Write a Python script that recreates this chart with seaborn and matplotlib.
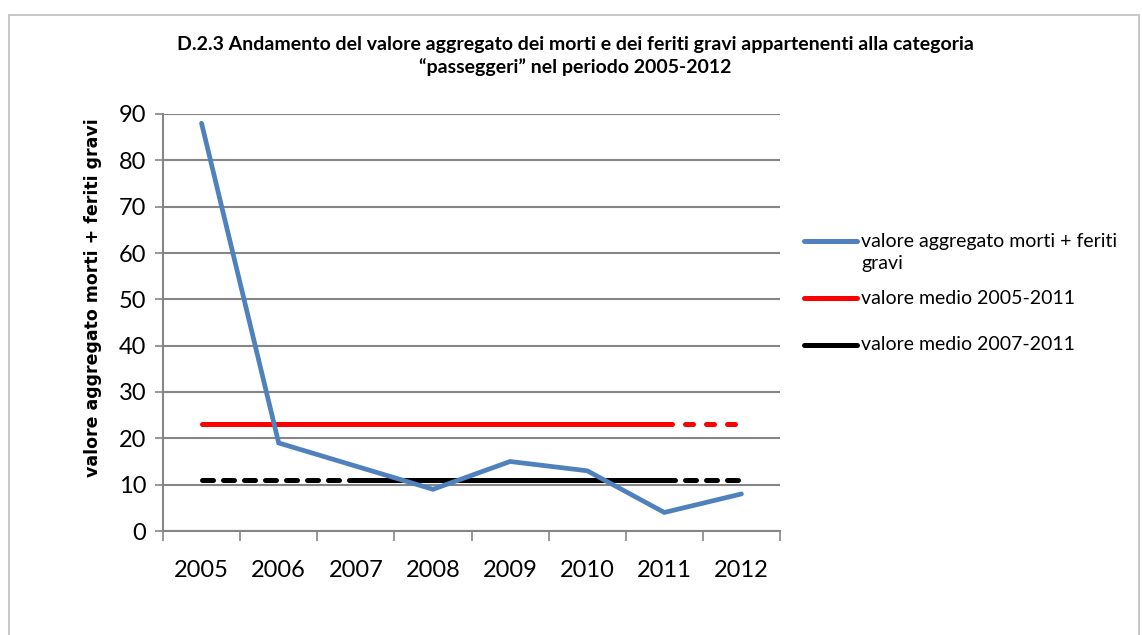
import matplotlib
matplotlib.use("Agg")
import pandas as pd
import seaborn as sns
import matplotlib.pyplot as plt
from matplotlib.lines import Line2D
from matplotlib.patches import Rectangle

years = ["2005", "2006", "2007", "2008", "2009", "2010", "2011", "2012"]
aggregate = [88, 19, 14, 9, 15, 13, 4, 8]
mean_2005_2011 = 23.1
mean_2007_2011 = 11.0

title = ("D.2.3 Andamento del valore aggregato dei morti e dei feriti gravi appartenenti alla categoria\n"
         "\u201cpasseggeri\u201d nel periodo 2005-2012")
ylabel = "valore aggregato morti + feriti gravi"
legend_labels = ["valore aggregato morti + feriti\ngravi",
                 "valore medio 2005-2011",
                 "valore medio 2007-2011"]

BLUE = "#4f81bd"
RED = "#ff0000"
BLACK = "#000000"
GRID = "#868686"

sns.set_theme(style="white")
plt.rcParams["font.family"] = ["Lato", "DejaVu Sans"]
plt.rcParams["text.color"] = "black"

W, H = 1142, 635
fig = plt.figure(figsize=(W / 100, H / 100), dpi=100)


def fx(px):
    return px / W


def fy(py):
    return 1 - py / H


ax = fig.add_axes([fx(163), fy(531), fx(780) - fx(163), fy(114) - fy(531)])

df = pd.DataFrame({"idx": range(len(years)), "year": years, "value": aggregate})


def segment(start, end, value):
    sub = df.iloc[start:end + 1].copy()
    sub["value"] = value
    return sub


# mean lines: solid over the averaging period, dashed outside
sns.lineplot(data=segment(0, 6, mean_2005_2011), x="idx", y="value", ax=ax,
             color=RED, linewidth=3.6, solid_capstyle="round")
sns.lineplot(data=segment(6, 7, mean_2005_2011), x="idx", y="value", ax=ax,
             color=RED, linewidth=3.6, linestyle=(0, (1.6, 2.6)), dash_capstyle="round")
sns.lineplot(data=segment(0, 2, mean_2007_2011), x="idx", y="value", ax=ax,
             color=BLACK, linewidth=3.6, linestyle=(0, (2.2, 2.0)), dash_capstyle="round")
sns.lineplot(data=segment(2, 6, mean_2007_2011), x="idx", y="value", ax=ax,
             color=BLACK, linewidth=3.6, solid_capstyle="round")
sns.lineplot(data=segment(6, 7, mean_2007_2011), x="idx", y="value", ax=ax,
             color=BLACK, linewidth=3.6, linestyle=(0, (2.2, 2.0)), dash_capstyle="round")
sns.lineplot(data=df, x="idx", y="value", ax=ax, color=BLUE, linewidth=3.4,
             solid_capstyle="round", solid_joinstyle="miter")

ax.set_xlim(-0.5, len(years) - 0.5)
ax.set_ylim(0, 90)
ax.set_yticks(range(0, 91, 10))
ax.set_xticks(range(len(years)))
ax.set_xticklabels(years)
ax.set_xticks([i - 0.5 for i in range(len(years) + 1)], minor=True)
ax.set_xlabel("")
ax.set_ylabel("")
ax.yaxis.grid(True, color=GRID, linewidth=1.5)
ax.set_axisbelow(True)
for s in ["top", "right"]:
    ax.spines[s].set_visible(False)
for s in ["left", "bottom"]:
    ax.spines[s].set_color(GRID)
    ax.spines[s].set_linewidth(1.5)
ax.tick_params(axis="x", which="major", length=0, labelsize=17, pad=21, labelcolor="black")
ax.tick_params(axis="x", which="minor", length=7, width=1.2, color=GRID, direction="out")
ax.tick_params(axis="y", length=6, width=1.2, color=GRID, direction="out", labelsize=17, pad=6,
               labelcolor="black")
ax.tick_params(axis="x", which="minor", bottom=True)
ax.tick_params(axis="y", left=True)

fig.text(fx(575), fy(56), title, ha="center", va="center", fontsize=14,
         fontweight="bold", linespacing=1.4, color="black")
fig.text(fx(93), fy(298), ylabel, ha="center", va="center", rotation=90,
         fontsize=12.5, fontweight="bold", family=["DejaVu Sans"], color="black")

# legend drawn by hand to match its irregular spacing
for color, y in [(BLUE, 241), (RED, 298), (BLACK, 345)]:
    fig.add_artist(Line2D([fx(804), fx(857)], [fy(y), fy(y)], color=color,
                          linewidth=3.6, solid_capstyle="round"))
fig.text(fx(861), fy(241), "valore aggregato morti + feriti", va="center", fontsize=14)
fig.text(fx(861), fy(264), "gravi", va="center", fontsize=14)
fig.text(fx(861), fy(298), legend_labels[1], va="center", fontsize=14)
fig.text(fx(861), fy(345), legend_labels[2], va="center", fontsize=14)

fig.add_artist(Rectangle((fx(9), -0.05), fx(1139) - fx(9), fy(15) + 0.05,
                         fill=False, edgecolor="#bfbfbf", linewidth=1.2))

fig.savefig("out.png", dpi=100)
